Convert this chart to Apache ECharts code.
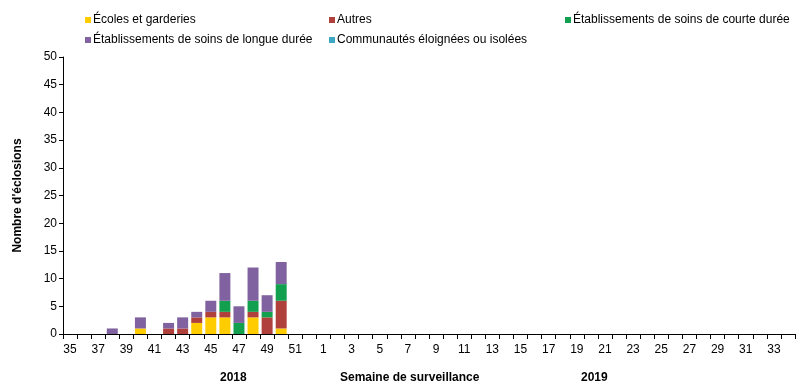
<!DOCTYPE html>
<html><head><meta charset="utf-8">
<script src="https://cdn.jsdelivr.net/npm/echarts@6/dist/echarts.min.js"></script>
<style>html,body{margin:0;padding:0;background:#fff}#c{width:805px;height:386px}</style>
</head><body><div id="c"></div>
<script>
const weeks = ['35','36','37','38','39','40','41','42','43','44','45','46','47','48','49','50','51','52',
  '1','2','3','4','5','6','7','8','9','10','11','12','13','14','15','16','17','18','19','20','21','22','23','24','25','26','27','28','29','30','31','32','33','34'];
// weeks 35..52 of 2018 followed by 1..34 of 2019
const ecoles   = [0,0,0,0,0,1,0,0,0,2,3,3,0,3,0,1,0,0, 0,0,0,0,0,0,0,0,0,0,0,0,0,0,0,0,0,0,0,0,0,0,0,0,0,0,0,0,0,0,0,0,0,0];
const autres   = [0,0,0,0,0,0,0,1,1,1,1,1,0,1,3,5,0,0, 0,0,0,0,0,0,0,0,0,0,0,0,0,0,0,0,0,0,0,0,0,0,0,0,0,0,0,0,0,0,0,0,0,0];
const courte   = [0,0,0,0,0,0,0,0,0,0,0,2,2,2,1,3,0,0, 0,0,0,0,0,0,0,0,0,0,0,0,0,0,0,0,0,0,0,0,0,0,0,0,0,0,0,0,0,0,0,0,0,0];
const longue   = [0,0,0,1,0,2,0,1,2,1,2,5,3,6,3,4,0,0, 0,0,0,0,0,0,0,0,0,0,0,0,0,0,0,0,0,0,0,0,0,0,0,0,0,0,0,0,0,0,0,0,0,0];
const communautes = [0,0,0,0,0,0,0,0,0,0,0,0,0,0,0,0,0,0, 0,0,0,0,0,0,0,0,0,0,0,0,0,0,0,0,0,0,0,0,0,0,0,0,0,0,0,0,0,0,0,0,0,0];
const seriesNames = ['Écoles et garderies','Autres','Établissements de soins de courte durée','Établissements de soins de longue durée','Communautés éloignées ou isolées'];
const colors = ['#FFCC00','#B0403C','#12A04E','#8062A0','#3FA9C4'];
const yTicks = {min:0, max:50, interval:5};

const F = 'Liberation Sans, Arial, sans-serif';
const chart = echarts.init(document.getElementById('c'));
const dataArr = [ecoles, autres, courte, longue, communautes];
const legendPos = [[80,9],[324,9],[560,9],[80,29],[324,29]];
chart.setOption({
  animation:false,
  textStyle:{fontFamily:F},
  legend: seriesNames.map((n,i)=>({
    data:[n], left:legendPos[i][0], top:legendPos[i][1], icon:'rect', itemWidth:6, itemHeight:6,
    textStyle:{fontFamily:F, fontSize:12, color:'#000', padding:[0,0,0,-3]}, selectedMode:false
  })),
  grid:{left:63, right:10, top:57, bottom:52},
  xAxis:{type:'category', data:weeks,
    axisLine:{lineStyle:{color:'#000'}},
    axisTick:{show:true, interval:0, length:5, lineStyle:{color:'#000'}},
    axisLabel:{interval:1, color:'#000', fontSize:12, fontFamily:F, margin:10}},
  yAxis:{type:'value', min:yTicks.min, max:yTicks.max, interval:yTicks.interval,
    name:"Nombre d'éclosions", nameLocation:'middle', nameGap:39,
    nameTextStyle:{fontWeight:'bold', fontSize:12, color:'#000', fontFamily:F},
    axisLine:{show:true, lineStyle:{color:'#000'}},
    axisTick:{show:true, length:4, lineStyle:{color:'#000'}},
    splitLine:{show:false},
    axisLabel:{color:'#000', fontSize:12, fontFamily:F, margin:6}},
  graphic:[
    {type:'text', left:220, top:372, style:{text:'2018', font:'bold 12px '+F, fill:'#000'}},
    {type:'text', left:340, top:372, style:{text:'Semaine de surveillance', font:'bold 12px '+F, fill:'#000'}},
    {type:'text', left:581, top:372, style:{text:'2019', font:'bold 12px '+F, fill:'#000'}}
  ],
  series: seriesNames.map((n,i)=>({
    name:n, type:'bar', stack:'s', data:dataArr[i], barCategoryGap:'22%',
    itemStyle:{color:colors[i]}
  }))
});
</script></body></html>
